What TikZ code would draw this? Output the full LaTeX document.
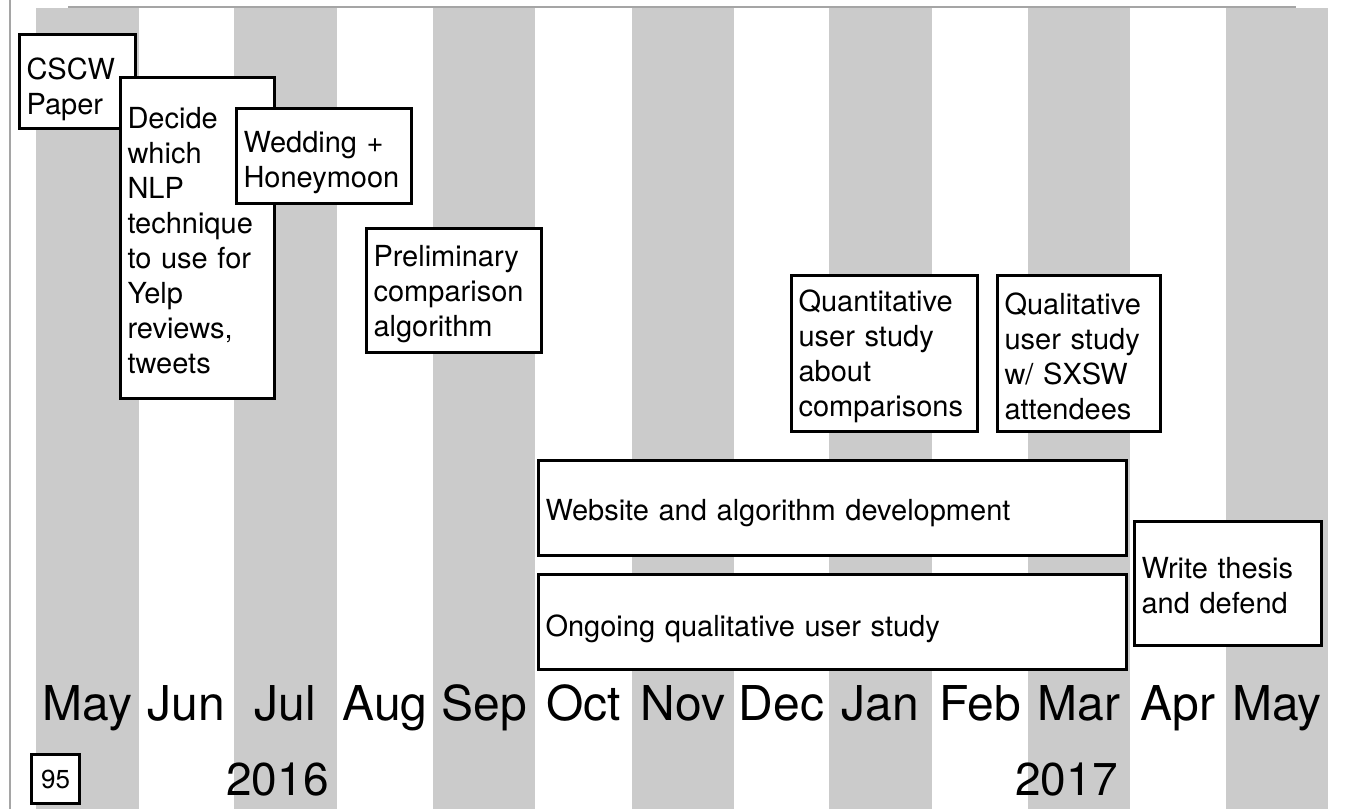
\documentclass[tikz,border=0pt]{standalone}
\usepackage{fontspec}
\setmainfont{TeX Gyre Heros}
\definecolor{stripegray}{RGB}{203,203,203}
\definecolor{rulegray}{RGB}{165,165,165}
\begin{document}
\begin{tikzpicture}[x=1pt,y=-1pt,
  taskbox/.style={draw=black, line width=3pt, fill=white, inner sep=0pt, anchor=center},
  tasktext/.style={inner sep=0pt, align=left, font=\fontsize{29}{35}\selectfont, anchor=center},
  month/.style={anchor=base, font=\fontsize{48}{52}\selectfont, inner sep=0pt},
  yearlab/.style={anchor=base, font=\fontsize{46}{50}\selectfont, inner sep=0pt},
  pagebox/.style={draw=black, line width=2.5pt, fill=white, inner sep=0pt,
    minimum width=48pt, minimum height=49pt, font=\fontsize{26}{30}\selectfont}
]
\useasboundingbox (0,0) rectangle (1348,809);
\fill[white] (0,0) rectangle (1348,809);
% month stripes
\foreach \a/\b in {36/139,234/337,433/535,632/734,829/932,1028/1130,1226/1328}
  \fill[stripegray] (\a,8) rectangle (\b,809);
% frame rules
\draw[rulegray, line width=1.5pt] (10,0) -- (10,809);
\draw[rulegray, line width=1.5pt] (68,7) -- (1296,7);

% tasks
\node[taskbox, minimum width=116pt, minimum height=94pt] (cscw) at (77.5,81.5) {};
\node[tasktext, text width=102pt] (cscw-t) at ([yshift=-8pt]cscw.center) {CSCW\\Paper};

\node[taskbox, minimum width=154pt, minimum height=321pt] (nlp) at (197.5,238) {};
\node[tasktext, text width=140pt] (nlp-t) at ([yshift=-3pt]nlp.center)
  {Decide\\which\\NLP\\technique\\to use for\\Yelp\\reviews,\\tweets};

\node[taskbox, minimum width=175pt, minimum height=95pt] (wed) at (324,156) {};
\node[tasktext, text width=161pt] (wed-t) at ([yshift=-7pt]wed.center) {Wedding +\\Honeymoon};

\node[taskbox, minimum width=175pt, minimum height=124pt] (prelim) at (454,290.5) {};
\node[tasktext, text width=161pt] (prelim-t) at ([yshift=-4pt]prelim.center)
  {Preliminary\\comparison\\algorithm};

\node[taskbox, minimum width=186pt, minimum height=156pt] (quant) at (884.5,353.5) {};
\node[tasktext, text width=172pt] (quant-t) at ([yshift=-3pt]quant.center)
  {Quantitative\\user study\\about\\comparisons};

\node[taskbox, minimum width=163pt, minimum height=156pt] (qual) at (1079,353.5) {};
\node[tasktext, text width=149pt] (qual-t) at ([yshift=-3pt]qual.center)
  {Qualitative\\user study\\w/ SXSW\\attendees};

\node[taskbox, minimum width=588pt, minimum height=95pt] (web) at (832.5,508) {};
\node[tasktext, text width=574pt] (web-t) at ([yshift=-5pt]web.center)
  {Website and algorithm development};

\node[taskbox, minimum width=588pt, minimum height=95pt] (ongoing) at (832.5,622) {};
\node[tasktext, text width=574pt] (ongoing-t) at ([yshift=-7pt]ongoing.center)
  {Ongoing qualitative user study};

\node[taskbox, minimum width=187pt, minimum height=124pt] (thesis) at (1228,583.5) {};
\node[tasktext, text width=173pt] (thesis-t) at ([yshift=-2pt]thesis.center)
  {Write thesis\\and defend};

% month labels
\foreach \x/\m [count=\i] in {87.5/May,186.5/Jun,285.5/Jul,385/Aug,484/Sep,583.5/Oct,683/Nov,781.5/Dec,880.5/Jan,980/Feb,1079/Mar,1178/Apr,1277/May}
  \node[month] (m\i) at (\x,720) {\m};

% years
\node[yearlab] (y2016) at (277.5,795) {2016};
\node[yearlab] (y2017) at (1066.5,795) {2017};

% page number
\node[pagebox] (pagenum) at (55.5,779) {95};
\end{tikzpicture}
\end{document}
